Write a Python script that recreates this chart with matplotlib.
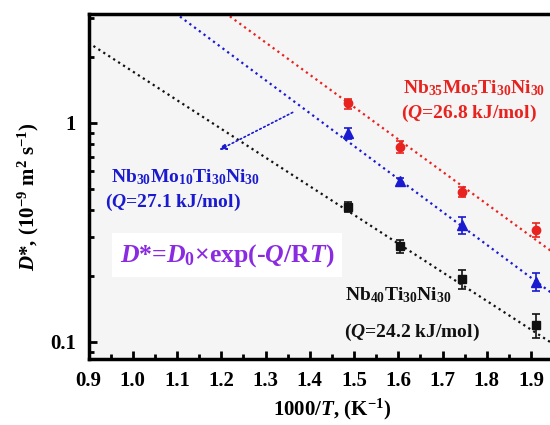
import matplotlib
matplotlib.use("Agg")
import matplotlib.pyplot as plt
from matplotlib.ticker import LogLocator, NullFormatter, FixedLocator, FixedFormatter

plt.rcParams['font.family'] = ['Liberation Serif', 'DejaVu Serif']
plt.rcParams['font.weight'] = 'bold'
plt.rcParams['axes.labelweight'] = 'bold'
plt.rcParams['mathtext.fontset'] = 'custom'
plt.rcParams['mathtext.rm'] = 'Liberation Serif:bold'
plt.rcParams['mathtext.it'] = 'Liberation Serif:bold:italic'
plt.rcParams['mathtext.bf'] = 'Liberation Serif:bold'

# 1000/T for 673, 623, 573, 523 K
inv_t = [1.486, 1.605, 1.745, 1.912]

d_nbmo5 = [1.226, 0.777, 0.484, 0.324]
e_nbmo5 = [0.065, 0.047, 0.025, 0.024]
d_nbmo10 = [0.895, 0.542, 0.341, 0.188]
e_nbmo10 = [0.05, 0.021, 0.03, 0.018]
d_nb40 = [0.413, 0.2735, 0.193, 0.119]
e_nb40 = [0.022, 0.018, 0.019, 0.015]

# fitted Arrhenius lines read at the axis ends
fit_x = [0.9, 2.0]
fit_nbmo5 = [9.07, 0.216]
fit_nbmo10 = [6.25, 0.139]
fit_nb40 = [2.32, 0.0842]

x_ticks = [0.9, 1.0, 1.1, 1.2, 1.3, 1.4, 1.5, 1.6, 1.7, 1.8, 1.9]
x_minor = [0.95, 1.05, 1.15, 1.25, 1.35, 1.45, 1.55, 1.65, 1.75, 1.85, 1.95]

red = '#e8231f'
blue = '#1a1ad0'
black = '#111111'
purple = '#8a2be2'

fig = plt.figure(figsize=(5.5, 4.25), dpi=100)
ax = fig.add_axes([88.5 / 550, 1 - 358.5 / 425, 486.75 / 550, 344.5 / 425])
ax.set_facecolor('#f5f5f5')

for fy, c in [(fit_nbmo5, red), (fit_nbmo10, blue), (fit_nb40, black)]:
    ax.plot(fit_x, fy, ls=':', lw=1.6, color=c)

ax.errorbar(inv_t, d_nbmo5, yerr=e_nbmo5, fmt='o', color=red, ms=6, capsize=3, elinewidth=1.2, capthick=1.2)
ax.errorbar(inv_t, d_nbmo10, yerr=e_nbmo10, fmt='^', color=blue, ms=6.5, capsize=3, elinewidth=1.2, capthick=1.2)
ax.errorbar(inv_t, d_nb40, yerr=e_nb40, fmt='s', color=black, ms=5.5, capsize=3, elinewidth=1.2, capthick=1.2)

ax.set_yscale('log')
ax.set_xlim(0.9, 2.0)
ax.set_ylim(0.084, 3.14)

ax.xaxis.set_major_locator(FixedLocator(x_ticks))
ax.xaxis.set_major_formatter(FixedFormatter(['%.1f' % v for v in x_ticks]))
ax.xaxis.set_minor_locator(FixedLocator(x_minor))
ax.yaxis.set_major_locator(FixedLocator([0.1, 1]))
ax.yaxis.set_major_formatter(FixedFormatter(['0.1', '1']))
ax.yaxis.set_minor_locator(LogLocator(base=10, subs=range(2, 10)))
ax.yaxis.set_minor_formatter(NullFormatter())
ax.tick_params(which='major', direction='in', length=6, width=2, labelsize=15, pad=9)
ax.tick_params(which='minor', direction='in', length=3.5, width=2)
ax.tick_params(top=False, right=False, which='both')
for lab in ax.get_xticklabels() + ax.get_yticklabels():
    lab.set_fontweight('bold')
for s in ax.spines.values():
    s.set_linewidth(2.5)

ax.set_xlabel('1000/$T$, (K$^{-1}$)', fontsize=15, labelpad=4)
ax.set_ylabel('$D$*, (10$^{-9}$ m$^{2}$ s$^{-1}$)', fontsize=15, labelpad=6)
ax.yaxis.set_label_coords(-0.097, 0.47)

ax.text(1.611, 1.44, 'Nb$_{35}$Mo$_{5}$Ti$_{30}$Ni$_{30}$', color=red, fontsize=14, va='center')
ax.text(1.607, 1.107, '($Q$=26.8 kJ/mol)', color=red, fontsize=14, va='center')
ax.text(0.951, 0.565, 'Nb$_{30}$Mo$_{10}$Ti$_{30}$Ni$_{30}$', color=blue, fontsize=14, va='center')
ax.text(0.937, 0.435, '($Q$=27.1 kJ/mol)', color=blue, fontsize=14, va='center')
ax.text(1.48, 0.163, 'Nb$_{40}$Ti$_{30}$Ni$_{30}$', color=black, fontsize=14, va='center')
ax.text(1.477, 0.1107, '($Q$=24.2 kJ/mol)', color=black, fontsize=14, va='center')
ax.text(1.213, 0.249, '$D$*=$D_{0}$×exp(-$Q$/R$T$)', color=purple, fontsize=18.5, va='center', ha='center',
        bbox=dict(facecolor='white', edgecolor='none', pad=6))

ax.annotate('', xy=(1.190, 0.743), xytext=(1.367, 1.131),
            arrowprops=dict(arrowstyle='-|>', color=blue, lw=1.2, ls=':', mutation_scale=10))

fig.savefig('out.png', dpi=100)
